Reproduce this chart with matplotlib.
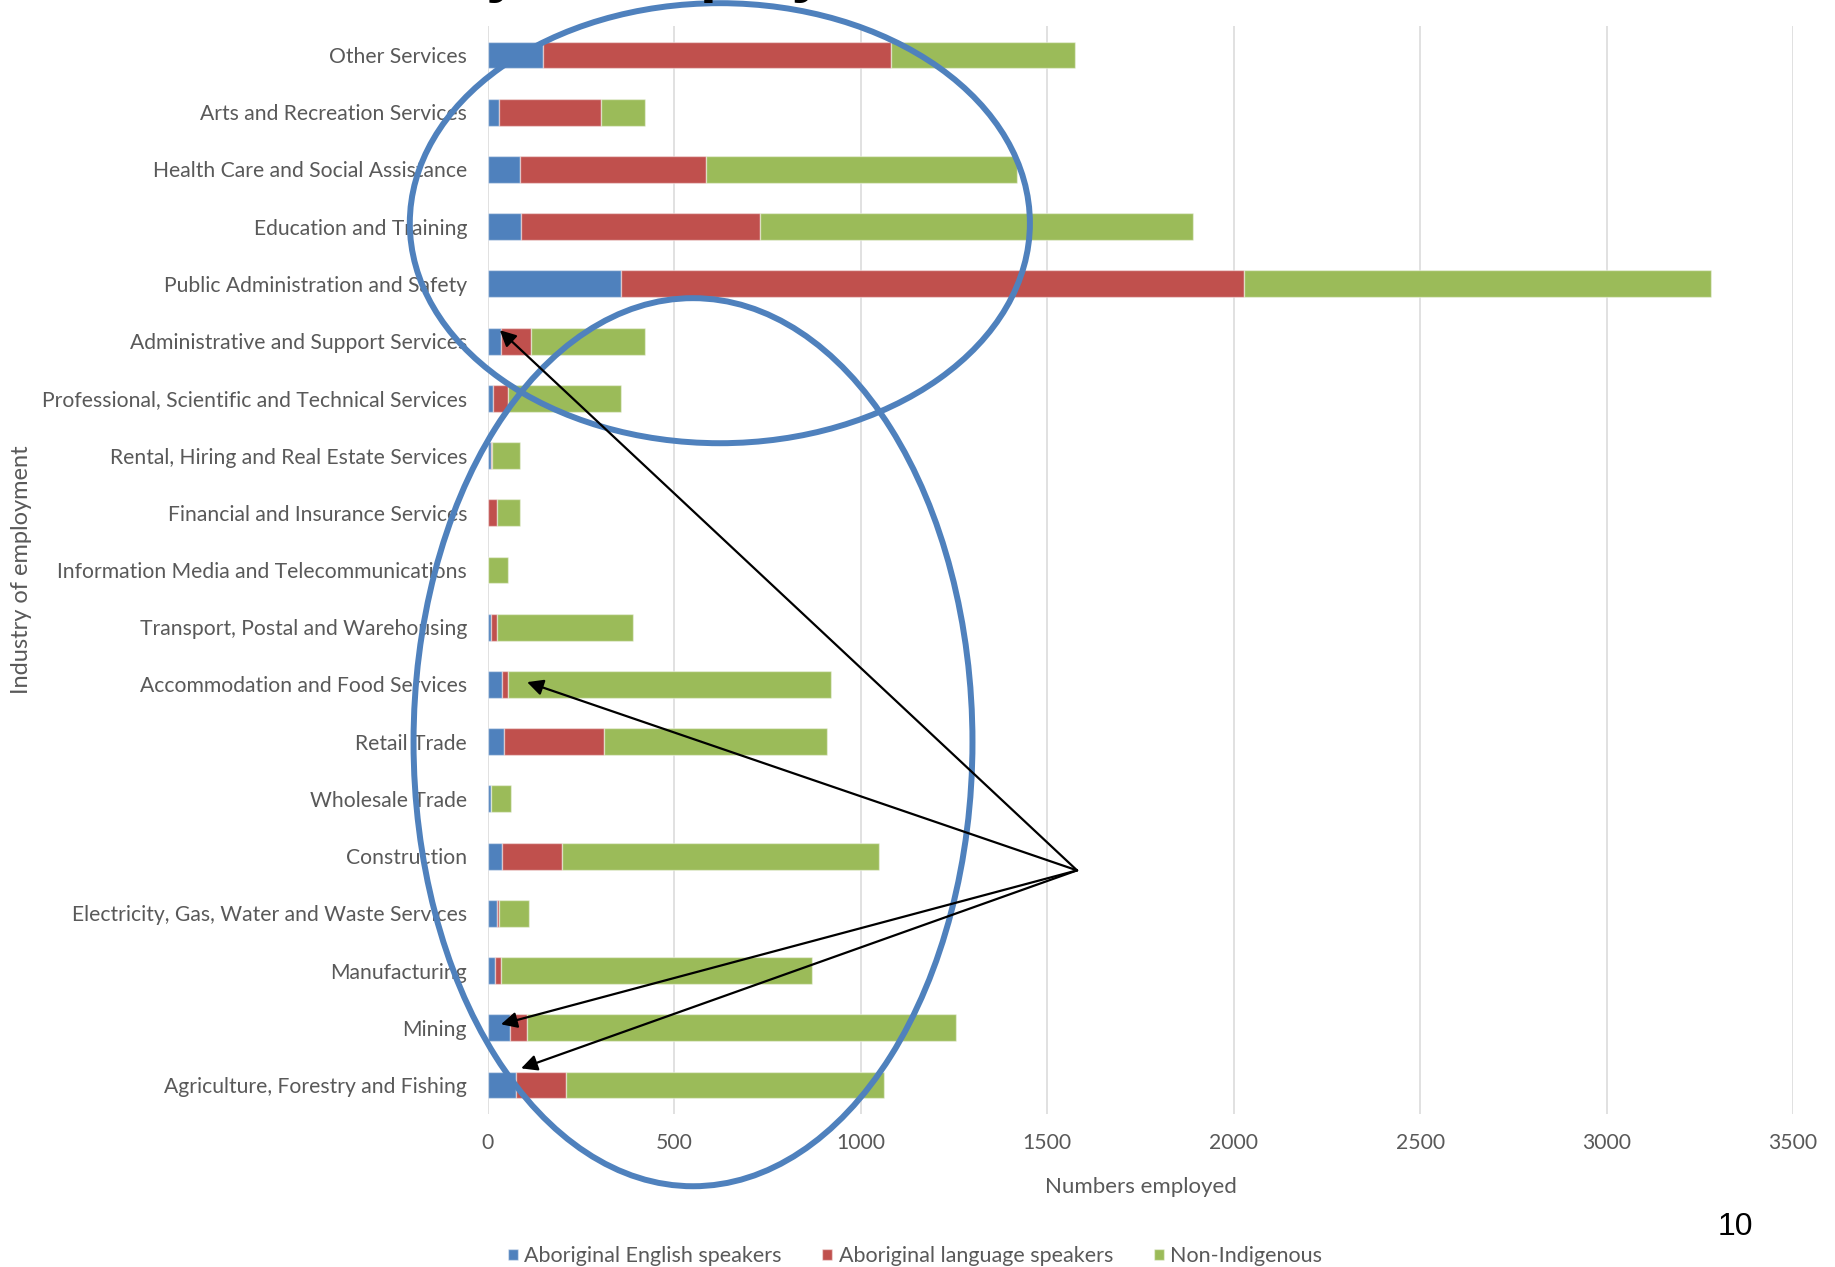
import numpy as np
import matplotlib
matplotlib.use("Agg")
import matplotlib.pyplot as plt
from matplotlib.patches import Ellipse

plt.rcParams['font.family'] = ['Lato', 'DejaVu Sans']

# categories, bottom to top
industries = ["Agriculture, Forestry and Fishing", "Mining", "Manufacturing",
              "Electricity, Gas, Water and Waste Services", "Construction",
              "Wholesale Trade", "Retail Trade", "Accommodation and Food Services",
              "Transport, Postal and Warehousing", "Information Media and Telecommunications",
              "Financial and Insurance Services", "Rental, Hiring and Real Estate Services",
              "Professional, Scientific and Technical Services",
              "Administrative and Support Services", "Public Administration and Safety",
              "Education and Training", "Health Care and Social Assistance",
              "Arts and Recreation Services", "Other Services"]
aboriginal_english = [74, 60, 18, 23, 38, 8, 43, 38, 8, 0, 0, 7, 14, 34, 358, 90, 85, 29, 147]
aboriginal_language = [136, 45, 16, 6, 161, 0, 268, 16, 15, 0, 23, 5, 40, 81, 1670, 639, 499, 273, 933]
non_indigenous = [853, 1149, 834, 81, 849, 55, 598, 866, 366, 54, 62, 73, 304, 305, 1252, 1162, 835, 118, 495]
series_names = ["Aboriginal English speakers", "Aboriginal language speakers", "Non-Indigenous"]
colors = ["#4F81BD", "#C0504D", "#9BBB59"]
xticks = [0, 500, 1000, 1500, 2000, 2500, 3000, 3500]

# annotation arrows (tips point at these industries)
arrow_targets = ["Administrative and Support Services", "Accommodation and Food Services",
                 "Mining", "Agriculture, Forestry and Fishing"]

gray = "#595959"
fig = plt.figure(figsize=(18.35, 12.67), dpi=100)
ax = fig.add_axes([0.2659, 0.1211, 0.7112, 0.8581])

y = np.arange(len(industries))
left = np.zeros(len(industries))
for vals, name, c in zip([aboriginal_english, aboriginal_language, non_indigenous], series_names, colors):
    ax.barh(y, vals, left=left, height=0.47, color=c, label=name,
            edgecolor=(1, 1, 1, 0.45), linewidth=1, zorder=2)
    left = left + np.array(vals)

ax.set_xlim(0, 3500)
ax.set_ylim(-0.5, len(industries) - 0.5)
ax.set_xticks(xticks)
ax.set_yticks(y)
ax.set_yticklabels(industries)
ax.tick_params(axis='y', length=0, pad=15, labelsize=15.2, labelcolor=gray)
ax.tick_params(axis='x', length=0, pad=14, labelsize=15.2, labelcolor=gray)
ax.grid(axis='x', color="#D9D9D9", linewidth=1.1, zorder=0)
ax.set_axisbelow(True)
for s in ax.spines.values():
    s.set_visible(False)

ax.set_xlabel("Numbers employed", fontsize=16, color=gray)
ax.xaxis.set_label_coords(0.5, -0.058)
ax.set_ylabel("Industry of employment", fontsize=17, color=gray)
ax.yaxis.set_label_coords(-0.349, 0.5)

# ellipses and arrows drawn over the chart
ax.add_patch(Ellipse((622, 15.06), 1663, 7.69, fill=False, edgecolor="#4F81BD",
                     linewidth=4.3, clip_on=False, zorder=5))
ax.add_patch(Ellipse((550, 5.99), 1499, 15.52, fill=False, edgecolor="#4F81BD",
                     linewidth=4.3, clip_on=False, zorder=5))
tips = {"Administrative and Support Services": (32, 0.19),
        "Accommodation and Food Services": (105, 0.04),
        "Mining": (35, 0.06),
        "Agriculture, Forestry and Fishing": (89, 0.29)}
for name in arrow_targets:
    tx, dy = tips[name]
    ax.annotate("", xy=(tx, industries.index(name) + dy), xytext=(1580, 3.75),
                arrowprops=dict(arrowstyle="-|>", color="black", lw=1.6,
                                mutation_scale=24, shrinkA=0, shrinkB=0),
                annotation_clip=False, zorder=6)

fig.legend(loc='center', bbox_to_anchor=(0.4986, 0.0087), ncol=3, frameon=False,
           fontsize=15.5, labelcolor=gray, handlelength=0.45, handleheight=0.45,
           handletextpad=0.3, columnspacing=1.9, borderaxespad=0)

# title cut off at the top of the slide
fig.text(-0.07, 1.0075, "Labour force, industry of employment", fontsize=44,
         fontweight='bold', family='Liberation Sans', ha='left', va='baseline')
fig.text(1735 / 1835, 1 - 1227 / 1267, "10", fontsize=23, family='Liberation Sans',
         ha='center', va='center')

fig.savefig("out.png", dpi=100)
